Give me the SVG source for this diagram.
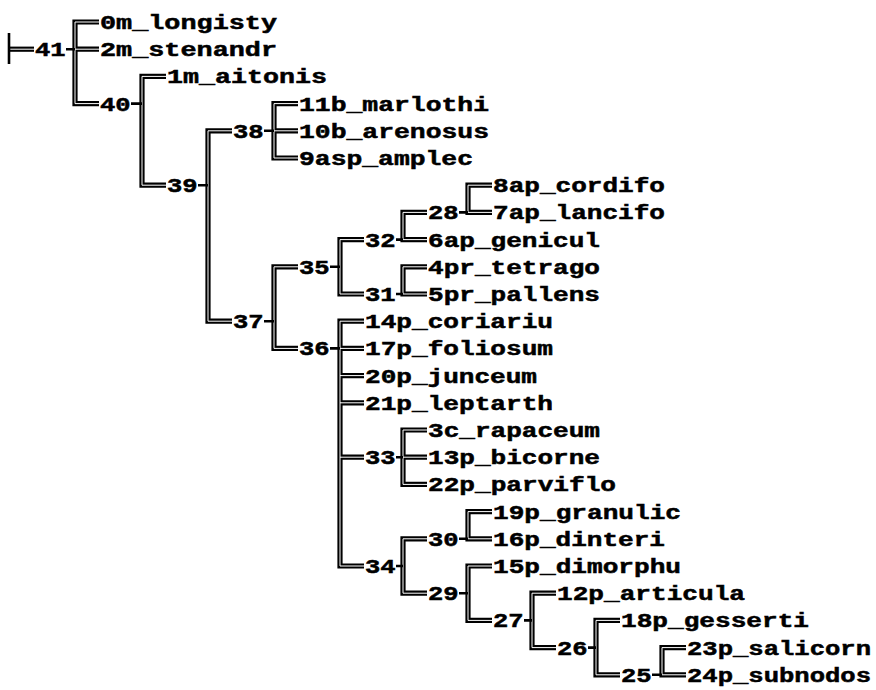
<svg xmlns="http://www.w3.org/2000/svg" xmlns:xlink="http://www.w3.org/1999/xlink" width="876" height="690" viewBox="0 0 876 690">
<style>
.t{font-family:"Liberation Mono","DejaVu Sans Mono",monospace;font-weight:bold;font-size:20px;fill:#000;stroke:#000;stroke-width:0.5}
.tk{stroke:#000;stroke-width:2.6;fill:none}
</style>
<defs>
<g id="edges" fill="none">
<path d="M9,49.2 H34"/>
<path d="M99,22 H75 V103.6 H99 M75,49.2 H99"/>
<path d="M166,76.4 H142 V185.2 H166"/>
<path d="M232,130.8 H208 V321.2 H232"/>
<path d="M298,103.6 H274 V158 H298 M274,130.8 H298"/>
<path d="M298,266.8 H274 V348.4 H298"/>
<path d="M364,239.6 H340 V294 H364"/>
<path d="M364,321.2 H340 V566 H364 M340,348.4 H364 M340,375.6 H364 M340,402.8 H364 M340,457.2 H364"/>
<path d="M427,212.4 H403 V239.6 H427"/>
<path d="M427,266.8 H403 V294 H427"/>
<path d="M427,430 H403 V484.4 H427 M403,457.2 H427"/>
<path d="M427,538.8 H403 V593.2 H427"/>
<path d="M492,185.2 H468 V212.4 H492"/>
<path d="M492,511.6 H468 V538.8 H492"/>
<path d="M492,566 H468 V620.4 H492"/>
<path d="M556,593.2 H532 V647.6 H556"/>
<path d="M620,620.4 H596 V674.8 H620"/>
<path d="M686,647.6 H662 V674.8 H686"/>
</g>
</defs>
<g id="connectors">
<use xlink:href="#edges" href="#edges" stroke="#000" stroke-width="5.2" stroke-linejoin="miter"/>
<use xlink:href="#edges" href="#edges" stroke="#fff" stroke-width="1" stroke-linejoin="miter"/>
<path class="tk" d="M9,33 V64"/>
<path class="tk" d="M66,49.2 H75 M131,103.6 H142 M198,185.2 H208 M264,130.8 H274 M264,321.2 H274 M330,266.8 H340 M330,348.4 H340 M396,239.6 H403 M396,294 H403 M396,457.2 H403 M396,566 H403 M459,212.4 H468 M459,538.8 H468 M459,593.2 H468 M524,620.4 H532 M588,647.6 H596 M652,674.8 H662"/>
</g>
<g id="n41"><text class="t" x="35" y="56.2" textLength="30.6" lengthAdjust="spacingAndGlyphs">41</text></g>
<g id="n40"><text class="t" x="100" y="110.6" textLength="30.6" lengthAdjust="spacingAndGlyphs">40</text></g>
<g id="n39"><text class="t" x="167" y="192.2" textLength="30.6" lengthAdjust="spacingAndGlyphs">39</text></g>
<g id="n38"><text class="t" x="233" y="137.8" textLength="30.6" lengthAdjust="spacingAndGlyphs">38</text></g>
<g id="n37"><text class="t" x="233" y="328.2" textLength="30.6" lengthAdjust="spacingAndGlyphs">37</text></g>
<g id="n35"><text class="t" x="299" y="273.8" textLength="30.6" lengthAdjust="spacingAndGlyphs">35</text></g>
<g id="n36"><text class="t" x="299" y="355.4" textLength="30.6" lengthAdjust="spacingAndGlyphs">36</text></g>
<g id="n32"><text class="t" x="365" y="246.6" textLength="30.6" lengthAdjust="spacingAndGlyphs">32</text></g>
<g id="n31"><text class="t" x="365" y="301" textLength="30.6" lengthAdjust="spacingAndGlyphs">31</text></g>
<g id="n33"><text class="t" x="365" y="464.2" textLength="30.6" lengthAdjust="spacingAndGlyphs">33</text></g>
<g id="n34"><text class="t" x="365" y="573" textLength="30.6" lengthAdjust="spacingAndGlyphs">34</text></g>
<g id="n28"><text class="t" x="428" y="219.4" textLength="30.6" lengthAdjust="spacingAndGlyphs">28</text></g>
<g id="n30"><text class="t" x="428" y="545.8" textLength="30.6" lengthAdjust="spacingAndGlyphs">30</text></g>
<g id="n29"><text class="t" x="428" y="600.2" textLength="30.6" lengthAdjust="spacingAndGlyphs">29</text></g>
<g id="n27"><text class="t" x="493" y="627.4" textLength="30.6" lengthAdjust="spacingAndGlyphs">27</text></g>
<g id="n26"><text class="t" x="557" y="654.6" textLength="30.6" lengthAdjust="spacingAndGlyphs">26</text></g>
<g id="n25"><text class="t" x="621" y="681.8" textLength="30.6" lengthAdjust="spacingAndGlyphs">25</text></g>
<g id="l0m"><text class="t" x="100" y="29" textLength="177" lengthAdjust="spacingAndGlyphs">0m_longisty</text></g>
<g id="l2m"><text class="t" x="100" y="56.2" textLength="177" lengthAdjust="spacingAndGlyphs">2m_stenandr</text></g>
<g id="l1m"><text class="t" x="167" y="83.4" textLength="160" lengthAdjust="spacingAndGlyphs">1m_aitonis</text></g>
<g id="l11b"><text class="t" x="299" y="110.6" textLength="190" lengthAdjust="spacingAndGlyphs">11b_marlothi</text></g>
<g id="l10b"><text class="t" x="299" y="137.8" textLength="190" lengthAdjust="spacingAndGlyphs">10b_arenosus</text></g>
<g id="l9asp"><text class="t" x="299" y="165" textLength="174" lengthAdjust="spacingAndGlyphs">9asp_amplec</text></g>
<g id="l8ap"><text class="t" x="493" y="192.2" textLength="172" lengthAdjust="spacingAndGlyphs">8ap_cordifo</text></g>
<g id="l7ap"><text class="t" x="493" y="219.4" textLength="172" lengthAdjust="spacingAndGlyphs">7ap_lancifo</text></g>
<g id="l6ap"><text class="t" x="428" y="246.6" textLength="172" lengthAdjust="spacingAndGlyphs">6ap_genicul</text></g>
<g id="l4pr"><text class="t" x="428" y="273.8" textLength="172" lengthAdjust="spacingAndGlyphs">4pr_tetrago</text></g>
<g id="l5pr"><text class="t" x="428" y="301" textLength="172" lengthAdjust="spacingAndGlyphs">5pr_pallens</text></g>
<g id="l14p"><text class="t" x="365" y="328.2" textLength="188" lengthAdjust="spacingAndGlyphs">14p_coriariu</text></g>
<g id="l17p"><text class="t" x="365" y="355.4" textLength="188" lengthAdjust="spacingAndGlyphs">17p_foliosum</text></g>
<g id="l20p"><text class="t" x="365" y="382.6" textLength="172" lengthAdjust="spacingAndGlyphs">20p_junceum</text></g>
<g id="l21p"><text class="t" x="365" y="409.8" textLength="188" lengthAdjust="spacingAndGlyphs">21p_leptarth</text></g>
<g id="l3c"><text class="t" x="428" y="437" textLength="172" lengthAdjust="spacingAndGlyphs">3c_rapaceum</text></g>
<g id="l13p"><text class="t" x="428" y="464.2" textLength="172" lengthAdjust="spacingAndGlyphs">13p_bicorne</text></g>
<g id="l22p"><text class="t" x="428" y="491.4" textLength="188" lengthAdjust="spacingAndGlyphs">22p_parviflo</text></g>
<g id="l19p"><text class="t" x="493" y="518.6" textLength="188" lengthAdjust="spacingAndGlyphs">19p_granulic</text></g>
<g id="l16p"><text class="t" x="493" y="545.8" textLength="172" lengthAdjust="spacingAndGlyphs">16p_dinteri</text></g>
<g id="l15p"><text class="t" x="493" y="573" textLength="188" lengthAdjust="spacingAndGlyphs">15p_dimorphu</text></g>
<g id="l12p"><text class="t" x="557" y="600.2" textLength="188" lengthAdjust="spacingAndGlyphs">12p_articula</text></g>
<g id="l18p"><text class="t" x="621" y="627.4" textLength="188" lengthAdjust="spacingAndGlyphs">18p_gesserti</text></g>
<g id="l23p"><text class="t" x="687" y="654.6" textLength="184" lengthAdjust="spacingAndGlyphs">23p_salicorn</text></g>
<g id="l24p"><text class="t" x="687" y="681.8" textLength="184" lengthAdjust="spacingAndGlyphs">24p_subnodos</text></g>
</svg>
